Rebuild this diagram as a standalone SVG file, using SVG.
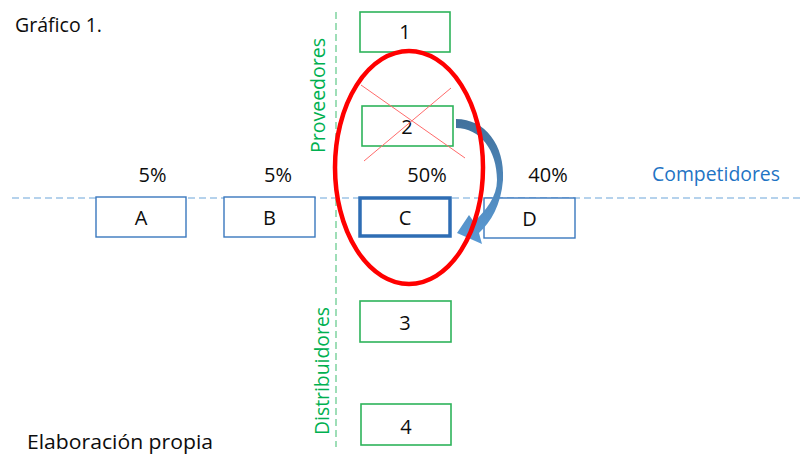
<svg xmlns="http://www.w3.org/2000/svg" width="802" height="457" viewBox="0 0 802 457">
  <style>
    text { font-family: "Open Sans", "Liberation Sans", Arial, sans-serif; font-size: 20px; fill: #0d0d0d; }
    .lbl { text-anchor: middle; }
    .green { fill: #00B050; font-size: 20.5px; }
    .blue { fill: #1F74C4; font-size: 20.5px; }
    .gbox { fill: #ffffff; stroke: #2DB35A; stroke-width: 1.6; }
    .bbox { fill: #ffffff; stroke: #3A78BE; stroke-width: 1.4; }
    .axis-h { stroke: #9DC3E6; stroke-width: 1.3; stroke-dasharray: 7 4; }
    .axis-v { stroke: #7FD3A0; stroke-width: 1.5; stroke-dasharray: 7 4; }
  </style>
  <defs>
    <linearGradient id="arrowFill" x1="0" y1="0" x2="0" y2="1">
      <stop offset="0" stop-color="#41719C"/>
      <stop offset="1" stop-color="#5B9BD5"/>
    </linearGradient>
  </defs>
  <rect width="802" height="457" fill="#ffffff"/>

  <!-- axes -->
  <g id="axes">
    <line class="axis-h" x1="12" y1="198" x2="800" y2="198"/>
    <line class="axis-v" x1="336" y1="12" x2="336" y2="447"/>
  </g>

  <!-- captions -->
  <text x="15" y="32" font-size="21" textLength="87" lengthAdjust="spacingAndGlyphs">Gráfico 1.</text>
  <text x="27" y="449" font-size="21" textLength="186" lengthAdjust="spacingAndGlyphs">Elaboración propia</text>
  <text class="blue" x="652" y="181" textLength="128" lengthAdjust="spacingAndGlyphs">Competidores</text>
  <text class="green" transform="translate(325,153) rotate(-90)" textLength="115" lengthAdjust="spacingAndGlyphs">Proveedores</text>
  <text class="green" transform="translate(329,435) rotate(-90)" textLength="128" lengthAdjust="spacingAndGlyphs">Distribuidores</text>

  <!-- shares -->
  <g id="shares">
    <text class="lbl" x="152.5" y="182">5%</text>
    <text class="lbl" x="278" y="182">5%</text>
    <text class="lbl" x="427" y="182">50%</text>
    <text class="lbl" x="548" y="182">40%</text>
  </g>

  <!-- competitor nodes -->
  <g id="node-A"><rect class="bbox" x="96" y="197" width="90" height="40"/><text class="lbl" x="141" y="224.5">A</text></g>
  <g id="node-B"><rect class="bbox" x="224" y="197" width="91" height="40"/><text class="lbl" x="269.5" y="224.5">B</text></g>
  <g id="node-C"><rect fill="#ffffff" stroke="#2E6DB4" stroke-width="3.5" x="360" y="198" width="90" height="38"/><text class="lbl" x="405" y="224.5">C</text></g>
  <g id="node-D"><rect class="bbox" x="484" y="198" width="91" height="40"/><text class="lbl" x="529.5" y="225.5">D</text></g>

  <!-- supplier / distributor nodes -->
  <g id="node-1"><rect class="gbox" x="360" y="12" width="90" height="40"/><text class="lbl" x="405" y="39">1</text></g>
  <g id="node-2"><rect class="gbox" x="362" y="106" width="91" height="40"/><text class="lbl" x="407" y="134">2</text></g>
  <g id="node-3"><rect class="gbox" x="360" y="301" width="91" height="41"/><text class="lbl" x="405" y="330">3</text></g>
  <g id="node-4"><rect class="gbox" x="361" y="404" width="90" height="41"/><text class="lbl" x="406" y="433.5">4</text></g>

  <!-- connectors -->
  <g id="connectors">
    <path fill="url(#arrowFill)" d="M456,119 C485,119 505,145 503,180 C501,205 491,222 479,233 L482,244 L457,233 L469,215 L474,222 C486,210 497,197 497,180 C497,150 480,128 456,128 Z"/>
  </g>

  <!-- highlight and strike-through -->
  <g id="highlight">
    <ellipse cx="409" cy="167.5" rx="74" ry="116.5" fill="none" stroke="#FF0000" stroke-width="4.5"/>
    <line x1="361" y1="85" x2="465" y2="158" stroke="#FF6B6B" stroke-width="1"/>
    <line x1="451" y1="88" x2="364" y2="161" stroke="#FF6B6B" stroke-width="1"/>
  </g>
</svg>
